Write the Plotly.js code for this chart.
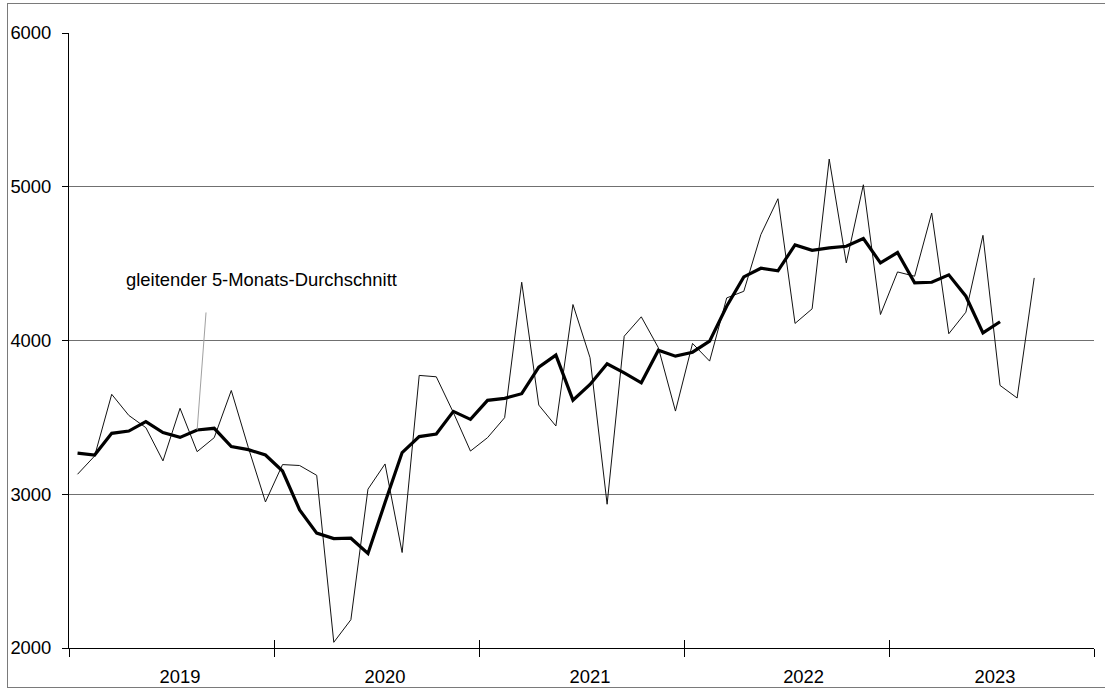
<!DOCTYPE html>
<html>
<head>
<meta charset="utf-8">
<script src="https://cdn.plot.ly/plotly-3.0.1.min.js"></script>
<style>
  html, body { margin: 0; padding: 0; background: #fff; }
  #wrap { position: relative; width: 1105px; height: 690px; overflow: hidden; }
  #chart { position: absolute; left: 0; top: 0; width: 1105px; height: 690px; }
  #frame { position: absolute; left: 7px; top: 3px; width: 1110px; height: 685px;
           border: 1px solid #7a7a7a; pointer-events: none; box-sizing: border-box; }
</style>
</head>
<body>
<div id="wrap">
  <div id="chart"></div>
  <div id="frame"></div>
</div>
<script>
// Monthly categories Jan 2019 – Sep 2023
const months = [
  '2019-01','2019-02','2019-03','2019-04','2019-05','2019-06','2019-07','2019-08','2019-09','2019-10','2019-11','2019-12',
  '2020-01','2020-02','2020-03','2020-04','2020-05','2020-06','2020-07','2020-08','2020-09','2020-10','2020-11','2020-12',
  '2021-01','2021-02','2021-03','2021-04','2021-05','2021-06','2021-07','2021-08','2021-09','2021-10','2021-11','2021-12',
  '2022-01','2022-02','2022-03','2022-04','2022-05','2022-06','2022-07','2022-08','2022-09','2022-10','2022-11','2022-12',
  '2023-01','2023-02','2023-03','2023-04','2023-05','2023-06','2023-07','2023-08','2023-09'
];

// Monthly values (thin line)
const monthly = [
  3130, 3249, 3650, 3513, 3433, 3217, 3559, 3277, 3368, 3675, 3303, 2950,
  3193, 3187, 3123, 2037, 2184, 3033, 3197, 2621, 3773, 3764, 3531, 3281,
  3368, 3498, 4379, 3580, 3444, 4234, 3888, 2935, 4028, 4154, 3953, 3541,
  3981, 3866, 4277, 4320, 4689, 4922, 4111, 4206, 5180, 4505, 5013, 4169,
  4446, 4418, 4829, 4044, 4184, 4684, 3708, 3626, 4407
];

// Moving 5-month average (thick line), Jan 2019 – Jul 2023
const movingAvg = [
  3268, 3255, 3396, 3411, 3472, 3401, 3370, 3418, 3429, 3310, 3290, 3255,
  3151, 2898, 2747, 2712, 2714, 2615, 2946, 3271, 3375, 3392, 3539, 3487,
  3611, 3624, 3654, 3827, 3905, 3612, 3714, 3849, 3790, 3725, 3937, 3898,
  3924, 3996, 4223, 4414, 4470, 4453, 4622, 4587, 4602, 4613, 4663, 4505,
  4572, 4375, 4379, 4427, 4288, 4050, 4122
];

const years = ['2019', '2020', '2021', '2022', '2023'];
const yTicks = [2000, 3000, 4000, 5000, 6000];
const avgLabel = 'gleitender 5-Monats-Durchschnitt';

// month position on a uniform axis derived from the category label
function monthPos(m) {
  const [y, mo] = m.split('-').map(Number);
  return (y - Number(years[0])) * 12 + (mo - 1);
}
const xMonthly = months.map(monthPos);
const xAvg = months.slice(0, movingAvg.length).map(monthPos);
const yearBounds = years.map((y, k) => k * 12 - 0.5).concat([years.length * 12 - 0.5]);
const yearLabelPos = [6, 18, 30, 42.5, 53.7];
const xRange = [-0.5, years.length * 12 - 0.5];

const font = { family: 'Liberation Sans, Arial, sans-serif', size: 18.4, color: '#000' };

const traces = [
  { x: xMonthly, y: monthly, type: 'scatter', mode: 'lines',
    line: { color: '#111', width: 1 }, hoverinfo: 'skip' },
  { x: xAvg, y: movingAvg, type: 'scatter', mode: 'lines',
    line: { color: '#000', width: 3.2 }, hoverinfo: 'skip' },
  { x: [], y: [], xaxis: 'x2', yaxis: 'y', type: 'scatter', mode: 'lines' },
  { x: [], y: [], xaxis: 'x3', yaxis: 'y', type: 'scatter', mode: 'lines' }
];

const layout = {
  width: 1105, height: 690,
  margin: { l: 69, r: 11, t: 33, b: 42 },
  paper_bgcolor: '#fff', plot_bgcolor: '#fff',
  showlegend: false,
  font: font,
  xaxis: {
    range: xRange, tickmode: 'array', tickvals: yearBounds,
    ticks: 'outside', ticklen: 8, tickcolor: '#000', tickwidth: 1,
    showticklabels: false, showline: true, linecolor: '#000', linewidth: 1,
    showgrid: false, zeroline: false, fixedrange: true
  },
  xaxis2: {
    overlaying: 'x', anchor: 'y', side: 'bottom',
    range: xRange, tickmode: 'array', tickvals: yearBounds,
    ticks: 'inside', ticklen: 8, tickcolor: '#000', tickwidth: 1,
    showticklabels: false, showline: false, showgrid: false, zeroline: false
  },
  xaxis3: {
    overlaying: 'x', anchor: 'y', side: 'bottom',
    range: xRange, tickmode: 'array', tickvals: yearLabelPos, ticktext: years,
    ticks: 'outside', ticklen: 12, tickcolor: 'rgba(0,0,0,0)',
    tickfont: font, showline: false, showgrid: false, zeroline: false
  },
  yaxis: {
    range: [2000, 6000], tickmode: 'array', tickvals: yTicks,
    ticktext: yTicks.map(String),
    ticks: 'outside', ticklen: 6, tickcolor: '#000', tickwidth: 1,
    ticklabelstandoff: 7,
    showline: true, linecolor: '#000', linewidth: 1,
    showgrid: true, gridcolor: '#707070', gridwidth: 1,
    zeroline: false, tickfont: font, fixedrange: true
  },
  annotations: [
    { x: 10.74, y: 4396, xref: 'x', yref: 'y', text: avgLabel, showarrow: false,
      font: font, xanchor: 'center', yanchor: 'middle' },
    { x: xAvg[7], y: movingAvg[7], xref: 'x', yref: 'y', text: '',
      showarrow: true, arrowhead: 0, arrowwidth: 1, arrowcolor: '#a0a0a0',
      ax: 9, ay: -119, standoff: 0, startstandoff: 0 }
  ]
};

Plotly.newPlot('chart', traces, layout, { displayModeBar: false, staticPlot: true });
</script>
</body>
</html>
